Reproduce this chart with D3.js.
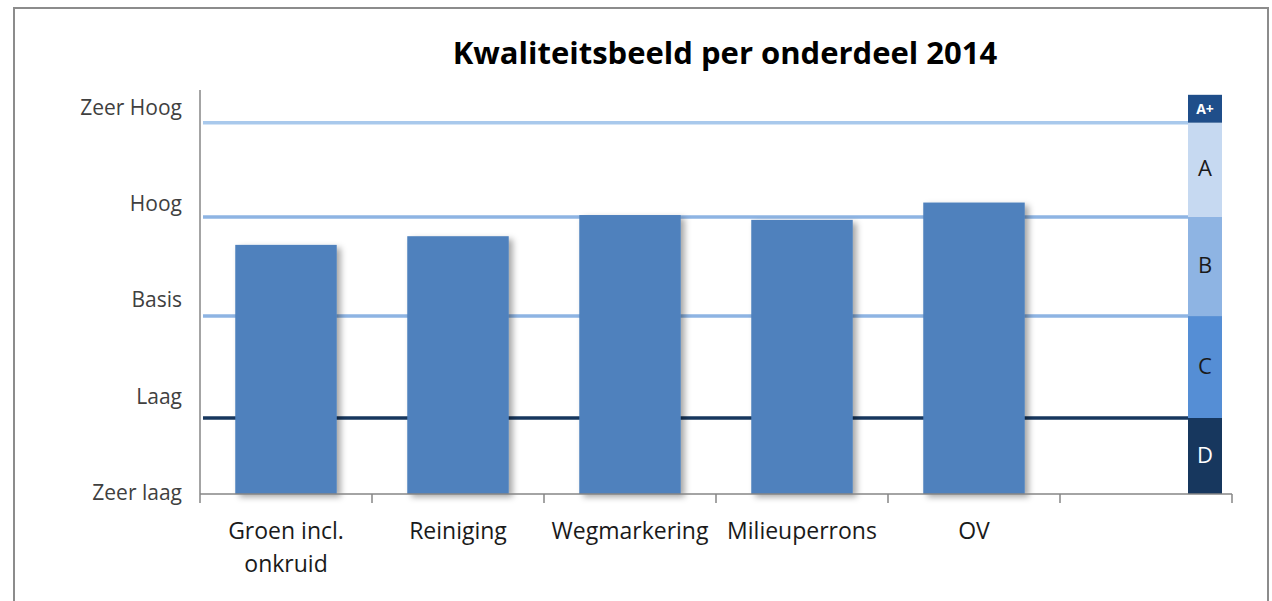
<!DOCTYPE html>
<html>
<head>
<meta charset="utf-8">
<script src="https://cdn.jsdelivr.net/npm/d3@7"></script>
<style>
  body { margin: 0; background: #fff; }
  svg { display: block; font-family: "Open Sans", sans-serif; }
</style>
</head>
<body>
<div id="chart"></div>
<script>
// Data
var categories = ["Groen incl.\nonkruid", "Reiniging", "Wegmarkering", "Milieuperrons", "OV"];
var scores = [2.59, 2.68, 2.90, 2.85, 3.03];
var levelLabels = ["Zeer laag", "Laag", "Basis", "Hoog", "Zeer Hoog"];
var levelValues = [0, 1, 2, 3, 4];
// quality bands on the right (bottom to top)
var bandNames = ["D", "C", "B", "A", "A+"];
var bandLower = [0, 0.79, 1.85, 2.88, 3.86];
var bandUpper = [0.79, 1.85, 2.88, 3.86, 4.15];
var bandColors = ["#17375e", "#558ed5", "#8eb4e3", "#c6d9f1", "#1f4e8a"];
var bandText = ["#fff", "#1a1a1a", "#1a1a1a", "#1a1a1a", "#fff"];
// threshold lines across the plot
var lineValues = [0.79, 1.85, 2.88, 3.86];
var lineColors = ["#17375e", "#8eb4e3", "#8eb4e3", "#a9c9ec"];

var W = 1272, H = 601;
var margin = {top: 90, right: 40, bottom: 107, left: 200},
    width = 1232 - margin.left,
    height = 494 - margin.top;

var svg = d3.select("#chart").append("svg")
    .attr("width", W)
    .attr("height", H);

// outer chart frame
svg.append("rect")
    .attr("x", 14).attr("y", 8)
    .attr("width", 1254).attr("height", 610)
    .attr("fill", "#fff")
    .attr("stroke", "#8c8c8c")
    .attr("stroke-width", 2);

var defs = svg.append("defs");
var f = defs.append("filter").attr("id", "shadow")
    .attr("x", "-10%").attr("y", "-10%").attr("width", "130%").attr("height", "130%");
f.append("feDropShadow")
    .attr("dx", 4).attr("dy", 3)
    .attr("stdDeviation", 3)
    .attr("flood-color", "#000")
    .attr("flood-opacity", 0.35);

svg.append("text")
    .attr("x", 725).attr("y", 64)
    .attr("text-anchor", "middle")
    .style("font-size", "31px")
    .style("font-weight", "bold")
    .attr("fill", "#000")
    .text("Kwaliteitsbeeld per onderdeel 2014");

var g = svg.append("g")
    .attr("transform", "translate(" + margin.left + "," + margin.top + ")");

var xScale = d3.scaleBand()
    .domain(categories.concat([""]))
    .range([0, width])
    .paddingInner(0.41)
    .paddingOuter(0.205);

var yScale = d3.scaleLinear().domain([0, 4.2]).range([height, 0]);

// quality band column
var bandX = 988, bandW = 34;
var bands = g.selectAll(".band")
    .data(bandNames)
  .enter().append("g")
    .attr("class", "band");

bands.append("rect")
    .attr("x", bandX)
    .attr("width", bandW)
    .attr("y", function (d, i) { return yScale(bandUpper[i]); })
    .attr("height", function (d, i) { return yScale(bandLower[i]) - yScale(bandUpper[i]); })
    .attr("fill", function (d, i) { return bandColors[i]; });

bands.append("text")
    .attr("x", bandX + bandW / 2)
    .attr("y", function (d, i) { return (yScale(bandLower[i]) + yScale(bandUpper[i])) / 2; })
    .attr("dy", function (d) { return d === "A+" ? "0.35em" : "0.3em"; })
    .attr("text-anchor", "middle")
    .style("font-size", function (d) { return d === "A+" ? "14px" : "22px"; })
    .style("font-weight", function (d) { return d === "A+" ? "bold" : "normal"; })
    .attr("fill", function (d, i) { return bandText[i]; })
    .text(function (d) { return d; });

// threshold lines
g.selectAll(".threshold")
    .data(lineValues)
  .enter().append("line")
    .attr("class", "threshold")
    .attr("x1", 3).attr("x2", bandX)
    .attr("y1", function (d) { return yScale(d); })
    .attr("y2", function (d) { return yScale(d); })
    .attr("stroke", function (d, i) { return lineColors[i]; })
    .attr("stroke-width", 3.5);

// bars
g.selectAll(".bar")
    .data(scores)
  .enter().append("rect")
    .attr("class", "bar")
    .attr("x", function (d, i) { return xScale(categories[i]); })
    .attr("width", xScale.bandwidth())
    .attr("y", function (d) { return yScale(d); })
    .attr("height", function (d) { return height - yScale(d); })
    .attr("fill", "#4f81bd")
    .attr("filter", "url(#shadow)");

// y axis
var yAxis = d3.axisLeft(yScale)
    .tickValues(levelValues)
    .tickSize(0)
    .tickPadding(18)
    .tickFormat(function (d, i) { return levelLabels[i]; });

var ya = g.append("g").attr("class", "y-axis").call(yAxis);
ya.select(".domain").attr("stroke", "#868686").attr("stroke-width", 1.5)
    .attr("d", "M0," + height + "V0");
ya.selectAll("text")
    .attr("dy", "0.25em")
    .style("font-size", "21px")
    .style("font-family", "'Open Sans', sans-serif")
    .attr("fill", "#404040");

// x axis
var xAxis = d3.axisBottom(xScale).tickSize(0).tickPadding(29);
var xa = g.append("g")
    .attr("class", "x-axis")
    .attr("transform", "translate(0," + height + ")")
    .call(xAxis);
xa.select(".domain").attr("stroke", "#868686").attr("stroke-width", 1.5)
    .attr("d", "M0,0H" + width);
xa.selectAll("text")
    .style("font-size", "23px")
    .style("font-family", "'Open Sans', sans-serif")
    .attr("fill", "#1a1a1a")
    .each(function (d) {
      var t = d3.select(this), lines = d.split("\n");
      t.text(null);
      lines.forEach(function (l, k) {
        t.append("tspan").attr("x", 0).attr("dy", k === 0 ? "0.71em" : "1.4em").text(l);
      });
    });

// category boundary tick marks
var bounds = xScale.domain().map(function (d) { return xScale(d) - xScale.step() * xScale.paddingInner() / 2; });
bounds.push(width);
xa.selectAll(".sep")
    .data(bounds)
  .enter().append("line")
    .attr("class", "sep")
    .attr("x1", function (d) { return d; })
    .attr("x2", function (d) { return d; })
    .attr("y1", 0).attr("y2", 9)
    .attr("stroke", "#868686")
    .attr("stroke-width", 1.5);
</script>
</body>
</html>
